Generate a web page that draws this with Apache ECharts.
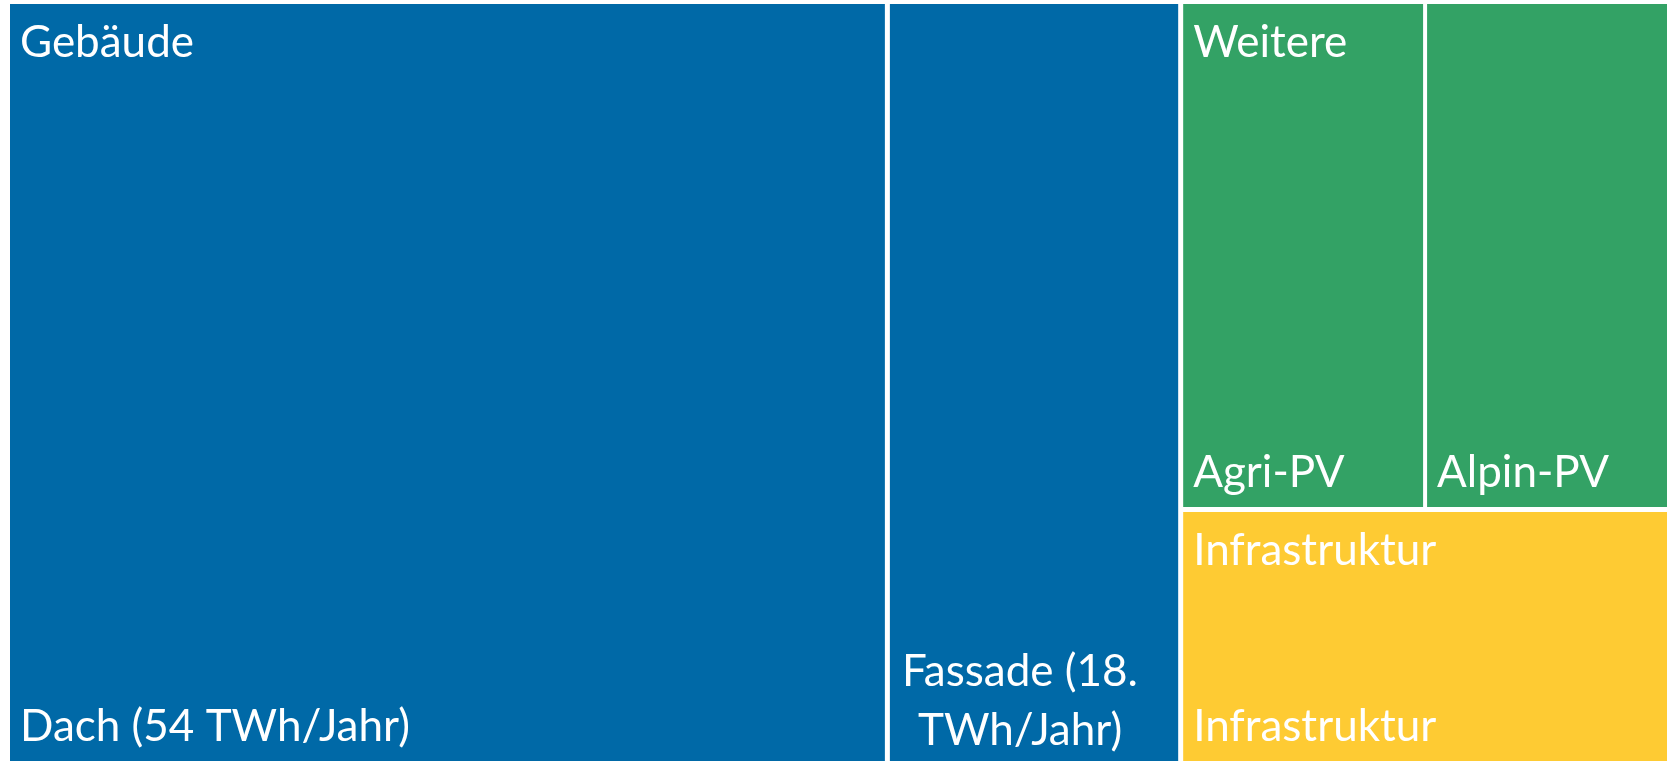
<!DOCTYPE html>
<html>
<head>
<meta charset="utf-8">
<title>Treemap</title>
<script src="https://cdn.jsdelivr.net/npm/echarts@6/dist/echarts.min.js"></script>
<style>
    html, body { margin: 0; padding: 0; background: #fff; }
    #main { width: 1669px; height: 761px; }
</style>
</head>
<body>
<div id="main"></div>
<script>
// 数据
const groupNames = ["Gebäude", "Weitere", "Infrastruktur"];
const groupColors = ["#0069a7", "#33a265", "#fecb33"];
const dachNames = ["Dach (54 TWh/Jahr)", "Fassade (18.\nTWh/Jahr)"];
const dachValues = [54, 18];
const weitereNames = ["Agri-PV", "Alpin-PV"];
const weitereValues = [10, 10];
const infraNames = ["Infrastruktur"];
const infraValues = [10];

(function () {
    const my_echart = echarts.init(document.querySelector("#main"));
    const leafNames = [dachNames, weitereNames, infraNames];
    const leafValues = [dachValues, weitereValues, infraValues];
    const font = {
        color: "#fff",
        fontFamily: "Lato",
        fontSize: 44,
        lineHeight: 59,
        overflow: "none"
    };
    // 叶子节点
    const tree = groupNames.map(function (g, i) {
        return {
            name: g,
            itemStyle: { color: groupColors[i], gapWidth: i === 1 ? 4 : 5 },
            children: leafNames[i].map(function (n, j) {
                const node = { name: n, value: leafValues[i][j] };
                if (n.indexOf("\n") > -1) { // Fassade: zweizeilig, zentriert
                    node.label = { position: "insideBottom", padding: [0, 28, 1, 0] };
                }
                return node;
            })
        };
    });
    // 分组（只显示左上角标签）
    const groups = groupNames.map(function (g, i) {
        return {
            name: g,
            value: leafValues[i].reduce(function (a, b) { return a + b; }, 0)
        };
    });
    const common = {
        type: "treemap",
        left: 10,
        top: 4,
        right: 2,
        bottom: 0,
        sort: false, //保持数据顺序
        roam: false,
        nodeClick: false,
        breadcrumb: { show: false },
        animation: false
    };
    let option = {
        backgroundColor: "#fff",
        series: [
            Object.assign({}, common, {
                z: 2,
                data: tree,
                label: Object.assign({}, font, {
                    position: "insideBottomLeft",
                    distance: 0,
                    padding: [0, 0, 5, 10]
                }),
                levels: [
                    { itemStyle: { borderWidth: 0, gapWidth: 5, borderColor: "#fff" } },
                    { itemStyle: { borderWidth: 0, borderColor: "#fff" } },
                    { itemStyle: { borderWidth: 0, gapWidth: 0 } }
                ]
            }),
            Object.assign({}, common, {
                z: 10, //覆盖在上面
                data: groups,
                silent: true,
                itemStyle: { color: "transparent", borderColor: "transparent", borderWidth: 0, gapWidth: 5 },
                label: Object.assign({}, font, {
                    position: "insideTopLeft",
                    distance: 0,
                    padding: [9, 0, 0, 10]
                }),
                levels: [
                    { itemStyle: { color: "transparent", borderColor: "transparent", borderWidth: 0, gapWidth: 5 } },
                    { itemStyle: { color: "transparent", borderColor: "transparent", borderWidth: 0 } }
                ]
            })
        ]
    };
    my_echart.setOption(option);
    window.addEventListener("resize", function () {
        my_echart.resize();
    });
})();
</script>
</body>
</html>
